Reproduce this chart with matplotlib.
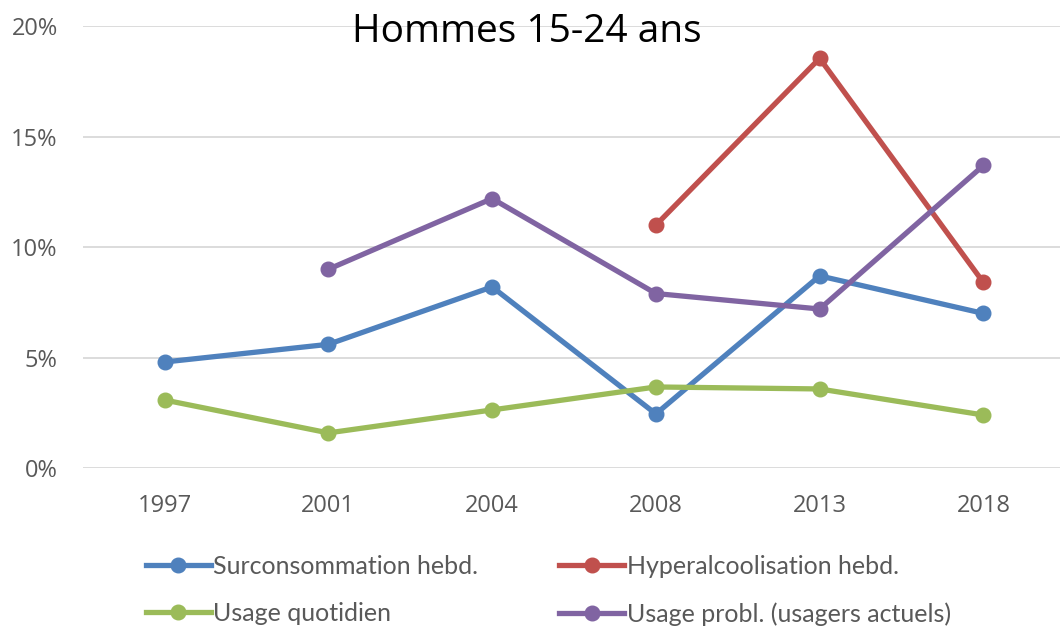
import numpy as np
import matplotlib.pyplot as plt
from matplotlib.lines import Line2D

# données (en %)
annees = ['1997', '2001', '2004', '2008', '2013', '2018']
surconso = [4.8, 5.6, 8.2, 2.45, 8.7, 7.0]
hyperalcool = [np.nan, np.nan, np.nan, 11.0, 18.55, 8.4]
quotidien = [3.08, 1.59, 2.63, 3.67, 3.58, 2.4]
usage_probl = [np.nan, 9.0, 12.2, 7.9, 7.2, 13.7]

series = [
    ('Surconsommation hebd.', surconso, '#4F81BD'),
    ('Hyperalcoolisation hebd.', hyperalcool, '#C0504D'),
    ('Usage quotidien', quotidien, '#9BBB59'),
    ('Usage probl. (usagers actuels)', usage_probl, '#8064A2'),
]

gris = '#595959'
police_axes = ['Open Sans', 'DejaVu Sans']
police_leg = ['Lato', 'DejaVu Sans']

fig = plt.figure(figsize=(10.6, 6.31), dpi=100)
ax = fig.add_axes([0.078, 0.2583, 0.927, 0.7])

x = np.arange(len(annees))
handles = []
for i, (nom, vals, coul) in enumerate(series):
    ax.plot(x, np.array(vals) / 100, '-o', color=coul, lw=3.8,
            markersize=10.5, zorder=3 + i)
    handles.append(Line2D([0], [0], color=coul, lw=3.8, marker='o',
                          markersize=10.5, label=nom))

ax.set_ylim(0, 0.2)
ax.set_xlim(-0.5, 5.5)
ax.set_yticks([0, 0.05, 0.10, 0.15, 0.20])
ax.set_yticklabels(['0%', '5%', '10%', '15%', '20%'])
ax.set_xticks(x)
ax.set_xticklabels(annees)
ax.grid(axis='y', color='#D9D9D9', lw=1.3)
ax.set_axisbelow(True)
for s in ax.spines.values():
    s.set_visible(False)
ax.tick_params(length=0, labelsize=17, labelcolor=gris)
ax.tick_params(axis='x', pad=19)
ax.tick_params(axis='y', pad=18)
for lab in ax.get_xticklabels() + ax.get_yticklabels():
    lab.set_family(police_axes)

fig.text(0.497, 0.949, 'Hommes 15-24 ans', ha='center', va='center',
         fontsize=28, family=police_axes)

# légende en deux colonnes, placées à la main
for j, hs in enumerate([[handles[0], handles[2]], [handles[1], handles[3]]]):
    leg = fig.legend(handles=hs, loc='upper left',
                     bbox_to_anchor=([0.128, 0.518][j], 0.137),
                     frameon=False, handlelength=2.6, handletextpad=0.1,
                     labelspacing=0.98, borderaxespad=0,
                     prop={'family': police_leg, 'size': 18})
    for t in leg.get_texts():
        t.set_color(gris)

fig.savefig('out.png', dpi=100)
